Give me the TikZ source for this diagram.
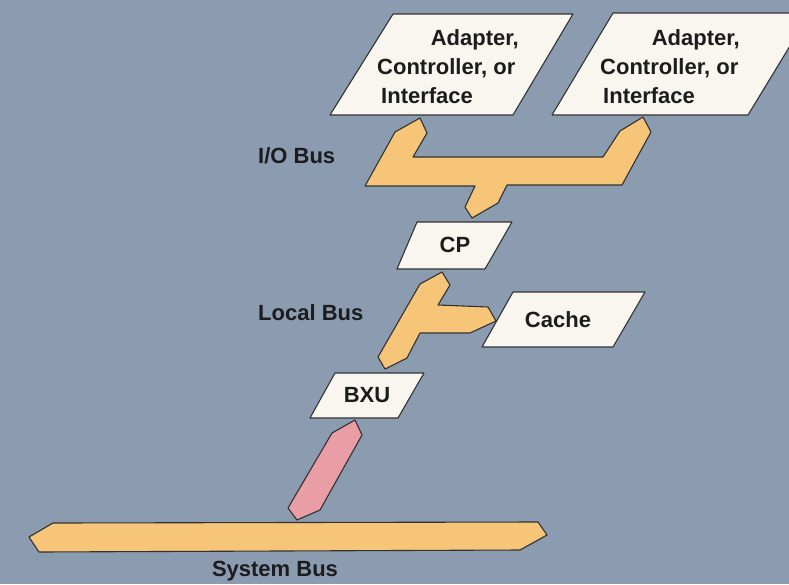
\documentclass[tikz,border=0pt]{standalone}
\usepackage{fontspec}
\setmainfont{Liberation Sans}
\definecolor{bg}{RGB}{139,155,176}
\definecolor{busfill}{RGB}{246,197,120}
\definecolor{boxfill}{RGB}{248,246,238}
\definecolor{pinkfill}{RGB}{232,158,164}
\definecolor{edge}{RGB}{50,50,50}
\definecolor{ink}{RGB}{28,28,30}
\tikzset{
  busshape/.style={fill=busfill, draw=edge, line width=1.1pt, line join=round},
  pinkshape/.style={fill=pinkfill, draw=edge, line width=1.1pt, line join=round},
  unitbox/.style={fill=boxfill, draw=edge, line width=1.1pt, line join=round},
  lbl/.style={inner sep=0pt, text=ink, font=\fontsize{22}{26}\selectfont\bfseries}
}
\begin{document}
\begin{tikzpicture}[x=1pt,y=-1pt]
\useasboundingbox (0,0) rectangle (789,584);
\clip (0,0) rectangle (789,584);
\fill[bg] (0,0) rectangle (789,584);

% I/O bus
\draw[busshape] (420,118) -- (427,133) -- (413,157) -- (603,157) -- (620,131) -- (643,117)
  -- (651,132) -- (622,185) -- (507,185) -- (498,203) -- (472,218) -- (465,207)
  -- (475,186) -- (365,186) -- (395,132) -- cycle;
% Local bus
\draw[busshape] (442,272) -- (450,285) -- (438,305) -- (488,307) -- (496,321) -- (470,333)
  -- (420,333) -- (407,358) -- (385,369) -- (378,357) -- (420,284) -- cycle;
% Pink connector
\draw[pinkshape] (355,420) -- (362,435) -- (320,510) -- (297,520) -- (288,508) -- (332,433) -- cycle;
% System bus
\draw[busshape] (29,537) -- (53,523) -- (538,522) -- (547,535) -- (520,550) -- (39,552) -- cycle;

% Boxes
\draw[unitbox] (393,14) -- (573,14) -- (513,115) -- (330,115) -- cycle;
\draw[unitbox] (613,13) -- (810,13) -- (748,115) -- (552,115) -- cycle;
\draw[unitbox] (417,222) -- (512,222) -- (485,269) -- (397,269) -- cycle;
\draw[unitbox] (513,292) -- (645,292) -- (613,347) -- (482,347) -- cycle;
\draw[unitbox] (335,373) -- (424,373) -- (398,418) -- (310,418) -- cycle;

% Box texts
\node[lbl, anchor=east] (a1l1) at (519,40) {Adapter,};
\node[lbl, anchor=west] (a1l2) at (377,68) {Controller, or};
\node[lbl, anchor=west] (a1l3) at (381,96) {Interface};
\node[lbl, anchor=east] (a2l1) at (740,40) {Adapter,};
\node[lbl, anchor=west] (a2l2) at (600,68) {Controller, or};
\node[lbl, anchor=west] (a2l3) at (603,96) {Interface};
\node[lbl] (cp) at (455,245) {CP};
\node[lbl] (cache) at (558,320) {Cache};
\node[lbl] (bxu) at (367,395) {BXU};

% Bus labels
\node[lbl, anchor=west] (iobus) at (258,156) {I/O Bus};
\node[lbl, anchor=west] (localbus) at (258,313) {Local Bus};
\node[lbl] (sysbus) at (275,571) {System Bus};
\end{tikzpicture}
\end{document}
